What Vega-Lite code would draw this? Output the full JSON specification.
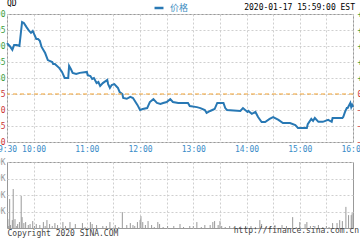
{
  "$schema": "https://vega.github.io/schema/vega-lite/v6.json",
  "autosize": {"type": "none"},
  "padding": {"left": 7, "top": 14, "right": 7, "bottom": 12},
  "params": [{"name": "width", "value": 346}, {"name": "height", "value": 214}],
  "background": "white",
  "title": {"text": "2020-01-17 15:59:00 EST", "anchor": "end", "frame": "group", "font": "DejaVu Sans Mono", "fontSize": 8, "fontWeight": "normal", "color": "#000", "offset": 0, "dx": 2, "dy": 12},
  "spacing": 20,
  "bounds": "flush",
  "config": {
    "view": {"stroke": "#999", "strokeWidth": 1},
    "axis": {"labelFont": "DejaVu Sans Mono", "labelFontSize": 8, "gridColor": "#cfcfcf", "gridDash": [2, 2], "ticks": false, "domain": false, "title": null, "labelOverlap": false, "labelFlush": false, "labelBound": false}
  },
  "vconcat": [
    {
      "width": 346,
      "height": 128,
      "title": {"text": "QD", "anchor": "start", "frame": "group", "font": "DejaVu Sans Mono", "fontSize": 8, "fontWeight": "normal", "color": "#000", "offset": 2},
      "layer": [
        {
          "data": {"values": [
            {"t":0,"p":4.909},{"t":3,"p":4.900},{"t":6,"p":4.888},{"t":8,"p":4.903},{"t":11,"p":4.903},{"t":14,"p":4.900},
            {"t":17,"p":4.975},{"t":19,"p":4.972},{"t":22,"p":4.959},{"t":25,"p":4.947},{"t":27,"p":4.941},{"t":29,"p":4.947},
            {"t":30,"p":4.941},{"t":33,"p":4.922},{"t":35,"p":4.922},{"t":37,"p":4.916},{"t":39,"p":4.897},{"t":43,"p":4.878},
            {"t":46,"p":4.856},{"t":51,"p":4.850},{"t":52,"p":4.844},{"t":54,"p":4.844},{"t":59,"p":4.831},{"t":62,"p":4.819},
            {"t":65,"p":4.800},{"t":69,"p":4.800},{"t":70,"p":4.838},{"t":72,"p":4.828},{"t":74,"p":4.816},{"t":78,"p":4.8125},
            {"t":82,"p":4.816},{"t":90,"p":4.819},{"t":91,"p":4.809},{"t":94,"p":4.806},{"t":96,"p":4.797},{"t":98,"p":4.800},
            {"t":101,"p":4.784},{"t":103,"p":4.7875},{"t":105,"p":4.775},{"t":108,"p":4.784},{"t":113,"p":4.794},{"t":114,"p":4.781},
            {"t":116,"p":4.769},{"t":118,"p":4.778},{"t":121,"p":4.781},{"t":124,"p":4.772},{"t":125,"p":4.769},{"t":127,"p":4.756},
            {"t":130,"p":4.750},{"t":131,"p":4.7375},{"t":135,"p":4.735},{"t":139,"p":4.741},{"t":142,"p":4.7375},{"t":147,"p":4.716},
            {"t":150,"p":4.700},{"t":153,"p":4.703},{"t":158,"p":4.706},{"t":161,"p":4.725},{"t":165,"p":4.734},{"t":169,"p":4.722},
            {"t":173,"p":4.719},{"t":176,"p":4.722},{"t":180,"p":4.725},{"t":184,"p":4.734},{"t":187,"p":4.725},{"t":193,"p":4.722},
            {"t":204,"p":4.722},{"t":206,"p":4.7125},{"t":214,"p":4.709},{"t":218,"p":4.706},{"t":223,"p":4.700},{"t":225,"p":4.691},
            {"t":229,"p":4.697},{"t":234,"p":4.703},{"t":237,"p":4.722},{"t":244,"p":4.722},{"t":246,"p":4.706},{"t":248,"p":4.700},
            {"t":263,"p":4.697},{"t":266,"p":4.706},{"t":271,"p":4.694},{"t":272,"p":4.697},{"t":276,"p":4.688},{"t":280,"p":4.694},
            {"t":283,"p":4.678},{"t":287,"p":4.6625},{"t":291,"p":4.6625},{"t":296,"p":4.672},{"t":300,"p":4.678},{"t":306,"p":4.669},
            {"t":311,"p":4.659},{"t":319,"p":4.659},{"t":325,"p":4.653},{"t":328,"p":4.644},{"t":334,"p":4.644},{"t":338,"p":4.644},
            {"t":339,"p":4.656},{"t":343,"p":4.672},{"t":345,"p":4.666},{"t":347,"p":4.675},{"t":351,"p":4.663},{"t":356,"p":4.663},
            {"t":362,"p":4.669},{"t":366,"p":4.663},{"t":367,"p":4.675},{"t":373,"p":4.675},{"t":378,"p":4.675},{"t":379,"p":4.678},
            {"t":381,"p":4.694},{"t":383,"p":4.706},{"t":384,"p":4.706},{"t":387,"p":4.722},{"t":388,"p":4.709},{"t":389,"p":4.716},
            {"t":390,"p":4.709}
          ]},
          "mark": {"type": "line", "strokeWidth": 2},
          "encoding": {
            "x": {"field": "t", "type": "quantitative", "scale": {"domain": [0, 390], "nice": false, "zero": false},
              "axis": {"values": [0,30,60,90,120,150,180,210,240,270,300,330,360,390],
                "labelExpr": "datum.value == 0 ? '9:30' : (datum.value % 60 == 30 ? floor((datum.value + 570) / 60) + ':00' : '')",
                "labelColor": "#3a8cc8", "labelPadding": 3, "grid": true}},
            "y": {"field": "p", "type": "quantitative", "scale": {"domain": [4.6, 5.0], "nice": false, "zero": false},
              "axis": {"orient": "left", "values": [4.6,4.65,4.7,4.75,4.8,4.85,4.9,4.95,5.0], "format": ".2f", "labelPadding": 2, "grid": true,
                "labelColor": {"condition": {"test": "datum.value > 4.76", "value": "#3c9c3c"}, "value": "#cc3333"}}},
            "color": {"datum": "价格", "scale": {"range": ["#2878b4"]},
              "legend": {"orient": "none", "legendX": 146, "legendY": -12, "title": null, "padding": 0, "symbolType": "stroke", "symbolSize": 80, "symbolStrokeWidth": 2.5, "labelFont": "Noto Sans CJK SC", "labelFontSize": 9, "labelColor": "#3b8bc0", "labelOffset": 5}}
          }
        },
        {
          "data": {"values": [{"prevClose": 4.75}]},
          "mark": {"type": "rule", "color": "#f0a030", "strokeDash": [4, 3], "strokeWidth": 1},
          "encoding": {
            "y": {"field": "prevClose", "type": "quantitative", "scale": {"domain": [4.6, 5.0], "nice": false, "zero": false},
              "axis": {"orient": "right", "values": [4.6,4.65,4.7,4.75,4.8,4.85,4.9,4.95,5.0], "grid": false, "labelPadding": 4,
                "labelExpr": "(datum.value > 4.751 ? '+' : '') + format((datum.value - 4.75) / 4.75 * 100, '.2f') + '%'",
                "labelColor": {"condition": {"test": "datum.value > 4.76", "value": "#3c9c3c"}, "value": "#cc3333"}}}
          }
        }
      ],
      "resolve": {"axis": {"y": "independent"}}
    },
    {
      "width": 346,
      "height": 66,
      "title": {"text": "http://finance.sina.com.cn", "orient": "bottom", "anchor": "end", "frame": "group", "font": "DejaVu Sans Mono", "fontSize": 8, "fontWeight": "normal", "color": "#444", "offset": 0, "dx": 6, "dy": -10},
      "data": {"values": [
        {"t":1,"v":27000},{"t":2,"v":6000},{"t":3,"v":88000},{"t":4,"v":9000},{"t":6,"v":24000},{"t":7,"v":118000},{"t":9,"v":27000},
        {"t":11,"v":6000},{"t":12,"v":12000},{"t":14,"v":18000},{"t":16,"v":97000},{"t":17,"v":33000},{"t":19,"v":15000},{"t":21,"v":18000},
        {"t":24,"v":9000},{"t":26,"v":12000},{"t":29,"v":21000},{"t":31,"v":6000},{"t":33,"v":12000},{"t":37,"v":9000},{"t":41,"v":18000},
        {"t":43,"v":6000},{"t":45,"v":24000},{"t":48,"v":12000},{"t":51,"v":6000},{"t":54,"v":15000},{"t":57,"v":9000},{"t":63,"v":18000},
        {"t":66,"v":6000},{"t":71,"v":18000},{"t":77,"v":12000},{"t":85,"v":15000},{"t":88,"v":3000},{"t":94,"v":18000},{"t":96,"v":12000},
        {"t":101,"v":9000},{"t":108,"v":6000},{"t":112,"v":6000},{"t":116,"v":18000},{"t":122,"v":9000},{"t":126,"v":3000},{"t":130,"v":48000},
        {"t":135,"v":9000},{"t":139,"v":15000},{"t":142,"v":9000},{"t":144,"v":6000},{"t":147,"v":18000},{"t":150,"v":24000},{"t":151,"v":36000},
        {"t":153,"v":18000},{"t":156,"v":9000},{"t":159,"v":21000},{"t":163,"v":9000},{"t":166,"v":3000},{"t":170,"v":18000},{"t":172,"v":12000},
        {"t":176,"v":3000},{"t":181,"v":6000},{"t":188,"v":6000},{"t":195,"v":12000},{"t":199,"v":3000},{"t":206,"v":6000},{"t":210,"v":6000},
        {"t":214,"v":18000},{"t":219,"v":3000},{"t":223,"v":9000},{"t":229,"v":9000},{"t":232,"v":18000},{"t":234,"v":21000},{"t":238,"v":9000},
        {"t":240,"v":21000},{"t":242,"v":6000},{"t":246,"v":3000},{"t":251,"v":6000},{"t":256,"v":3000},{"t":262,"v":3000},{"t":269,"v":6000},
        {"t":275,"v":6000},{"t":280,"v":3000},{"t":285,"v":24000},{"t":287,"v":12000},{"t":292,"v":3000},{"t":297,"v":6000},{"t":302,"v":9000},
        {"t":310,"v":9000},{"t":315,"v":6000},{"t":322,"v":33000},{"t":326,"v":3000},{"t":330,"v":18000},{"t":336,"v":12000},{"t":338,"v":18000},
        {"t":342,"v":6000},{"t":347,"v":6000},{"t":351,"v":9000},{"t":356,"v":3000},{"t":360,"v":6000},{"t":363,"v":3000},{"t":367,"v":15000},
        {"t":372,"v":15000},{"t":375,"v":24000},{"t":378,"v":21000},{"t":382,"v":64000},{"t":385,"v":39000},{"t":388,"v":39000},{"t":389,"v":45000}
      ]},
      "mark": {"type": "rule", "color": "#999", "strokeWidth": 1},
      "encoding": {
        "x": {"field": "t", "type": "quantitative", "scale": {"domain": [0, 390], "nice": false, "zero": false},
          "axis": {"values": [30,60,90,120,150,180,210,240,270,300,330,360], "labels": false, "grid": true,
            "title": "Copyright 2020 SINA.COM", "titleAnchor": "start", "titleAlign": "left", "titleBaseline": "top", "titlePadding": 1,
            "titleFont": "DejaVu Sans Mono", "titleFontSize": 8, "titleFontWeight": "normal", "titleColor": "#444"}},
        "y": {"field": "v", "type": "quantitative", "scale": {"domain": [0, 200000], "nice": false},
          "axis": {"values": [50000,100000,150000,200000], "labelExpr": "datum.value / 1000 + 'K'", "labelColor": "#999", "labelPadding": 2, "grid": true}},
        "y2": {"datum": 0}
      }
    }
  ]
}
